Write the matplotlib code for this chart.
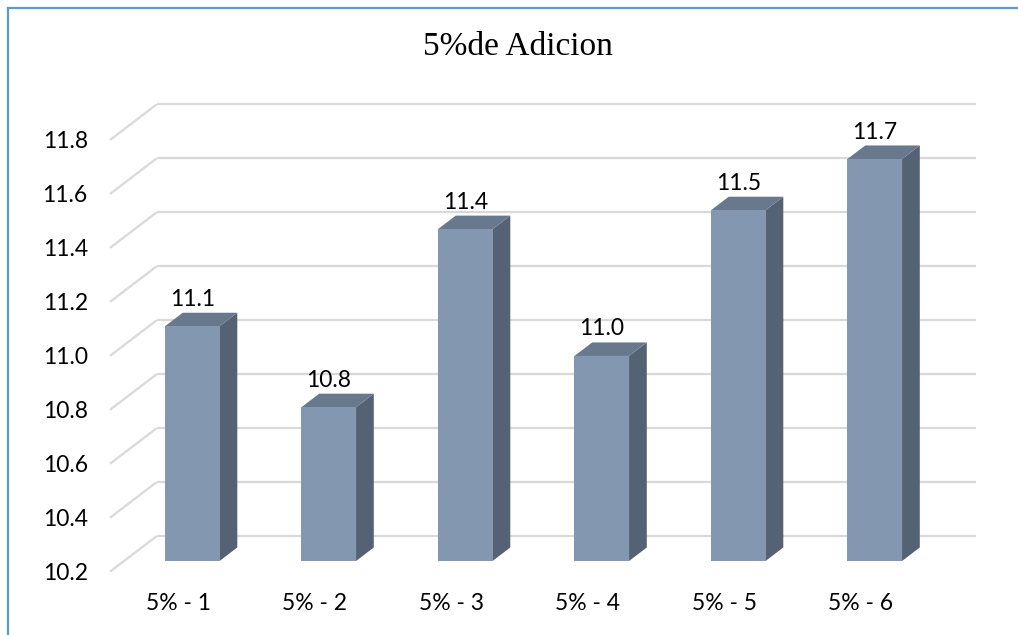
import matplotlib
matplotlib.use("Agg")
import matplotlib.pyplot as plt
from matplotlib.patches import Polygon
from matplotlib.lines import Line2D

# ---- data ----
categories = ["5% - 1", "5% - 2", "5% - 3", "5% - 4", "5% - 5", "5% - 6"]
values = [11.07, 10.77, 11.43, 10.96, 11.50, 11.69]
y_ticks = [10.2, 10.4, 10.6, 10.8, 11.0, 11.2, 11.4, 11.6, 11.8]
title = "5%de Adicion"

# ---- style ----
W, H, DPI = 1018, 635, 100
FONT = "Lato"
FS = 16.5
FRONT_C = "#8497B0"
SIDE_C = "#556273"
TOP_C = "#68788D"
GRID_C = "#D9D9D9"
BORDER_C = "#5B9BD5"
DEPTH_X = 0.342     # oblique depth of the plot box, in category units
DEPTH_Y = 0.132     # oblique depth of the plot box, in value units
BAR_FRONT = 0.30    # depth fraction of the bar front face
BAR_BACK = 0.68     # depth fraction of the bar back face
BAR_W = 0.40
Y0, Y1 = y_ticks[0], y_ticks[-1]

fig = plt.figure(figsize=(W / DPI, H / DPI), dpi=DPI)
fig.patch.set_facecolor("white")

# axes frame = front plane of the 3-D box
left, right = 110 / W, 929 / W
bottom, top = 1 - 571.7 / H, 1 - 140 / H
ax = fig.add_axes([left, bottom, right - left, top - bottom])
ax.set_xlim(-0.5, len(categories) - 0.5)
ax.set_ylim(Y0, Y1)
ax.patch.set_visible(False)
for s in ax.spines.values():
    s.set_visible(False)

# back wall gridlines with the oblique connectors to the front plane
x_lo, x_hi = -0.5, len(categories) - 0.5
for v in y_ticks:
    ax.plot([x_lo, x_lo + DEPTH_X], [v, v + DEPTH_Y], color=GRID_C, lw=1.6,
            clip_on=False, zorder=1, solid_capstyle="butt")
    ax.plot([x_lo + DEPTH_X, x_hi + DEPTH_X], [v + DEPTH_Y, v + DEPTH_Y],
            color=GRID_C, lw=1.6, clip_on=False, zorder=1, solid_capstyle="butt")

# 3-D bars
ddx = (BAR_BACK - BAR_FRONT) * DEPTH_X
ddy = (BAR_BACK - BAR_FRONT) * DEPTH_Y
for i, v in enumerate(values):
    cx = i + BAR_FRONT * DEPTH_X
    xl, xr = cx - BAR_W / 2, cx + BAR_W / 2
    b = Y0 + BAR_FRONT * DEPTH_Y
    t = v + BAR_FRONT * DEPTH_Y
    front = Polygon([(xl, b), (xr, b), (xr, t), (xl, t)], closed=True,
                    facecolor=FRONT_C, edgecolor="none", zorder=3, clip_on=False)
    side = Polygon([(xr, b), (xr + ddx, b + ddy), (xr + ddx, t + ddy), (xr, t)],
                   closed=True, facecolor=SIDE_C, edgecolor="none", zorder=3,
                   clip_on=False)
    topf = Polygon([(xl, t), (xr, t), (xr + ddx, t + ddy), (xl + ddx, t + ddy)],
                   closed=True, facecolor=TOP_C, edgecolor="none", zorder=3,
                   clip_on=False)
    for p in (side, topf, front):
        ax.add_patch(p)
    ax.annotate(f"{v:.1f}", xy=(cx, t + ddy), xytext=(0, 5), textcoords="offset points",
                ha="center", va="baseline", fontsize=FS, family=FONT,
                color="black", zorder=4, annotation_clip=False)

# axis labels
ax.set_yticks(y_ticks)
ax.set_yticklabels([f"{v:.1f}" for v in y_ticks], family=FONT, fontsize=FS)
ax.set_xticks(range(len(categories)))
ax.set_xticklabels(categories, family=FONT, fontsize=FS)
ax.tick_params(axis="y", length=0, pad=16)
ax.tick_params(axis="x", length=0, pad=15)

# title
fig.text(518 / W, 1 - 47 / H, title, ha="center", va="center",
         family="Liberation Serif", fontsize=24)

# frame lines along the top and left edges
fig.add_artist(Line2D([8 / W, 1], [1 - 8 / H, 1 - 8 / H], color=BORDER_C, lw=1.6,
                      transform=fig.transFigure))
fig.add_artist(Line2D([8 / W, 8 / W], [0, 1 - 8 / H], color=BORDER_C, lw=1.6,
                      transform=fig.transFigure))

fig.savefig("out.png", dpi=DPI)
